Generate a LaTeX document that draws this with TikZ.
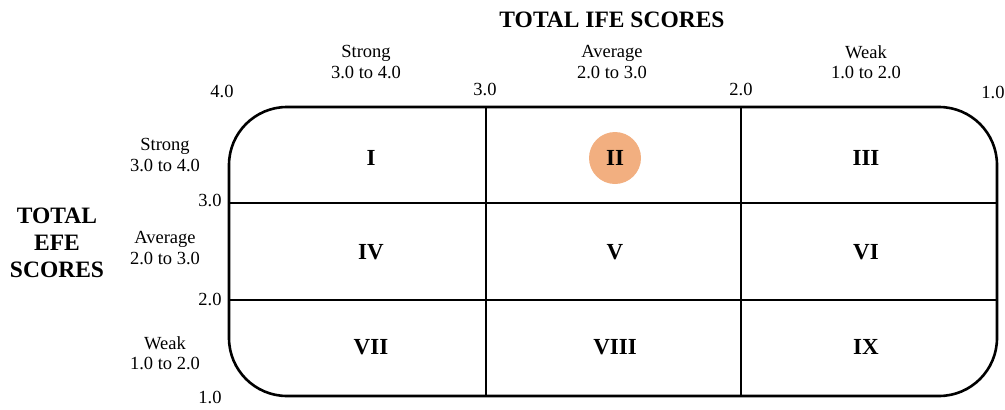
\documentclass[tikz,border=0pt]{standalone}
\usepackage{fontspec}
\setmainfont{Liberation Serif}
\usepackage{tikz}
\usetikzlibrary{calc,positioning}
\definecolor{Ink}{HTML}{000000}
\definecolor{Peach}{HTML}{F2AF80}
\tikzset{frame/.style={draw=Ink,line width=2.6pt,rounded corners=58pt},grid/.style={draw=Ink,line width=1.3pt},cell/.style={font=\fontsize{23}{27}\selectfont\bfseries,inner sep=0pt},band/.style={font=\fontsize{18.5}{20.5}\selectfont,align=center,inner sep=0pt},tick/.style={font=\fontsize{18.5}{20}\selectfont,inner sep=0pt},axis/.style={font=\fontsize{23.5}{27}\selectfont\bfseries,align=center,inner sep=0pt},dot/.style={circle,fill=Peach,minimum size=52pt,inner sep=0pt}}

\begin{document}
\begin{tikzpicture}[x=1pt,y=-1pt]
      \useasboundingbox(0,0)rectangle(1005,410);
      % matrix frame and grid points
      \coordinate(tl)at(229,107);\coordinate(br)at(997,396);
      \coordinate(c1t)at(486,107);\coordinate(c1b)at(486,396);
      \coordinate(c2t)at(741,107);\coordinate(c2b)at(741,396);
      \coordinate(r1l)at(229,203);\coordinate(r1r)at(997,203);
      \coordinate(r2l)at(229,300);\coordinate(r2r)at(997,300);
      \draw[grid](c1t)--(c1b);\draw[grid](c2t)--(c2b);
      \draw[grid](r1l)--(r1r);\draw[grid](r2l)--(r2r);
      \draw[frame](tl)rectangle(br);
      \node[dot](hl)at(615,158){};
      % cells
      \node[cell](i)at(371,158){I};
      \node[cell](ii)at(615,158){II};
      \node[cell](iii)at(866,158){III};
      \node[cell](iv)at(371,252){IV};
      \node[cell](v)at(615,252){V};
      \node[cell](vi)at(866,252){VI};
      \node[cell](vii)at(371,347){VII};
      \node[cell](viii)at(615,347){VIII};
      \node[cell](ix)at(866,347){IX};
      % IFE axis
      \node[axis](ife)at(612,20){TOTAL IFE SCORES};
      \node[band](hs)at(366,62){Strong\\3.0 to 4.0};
      \node[band](ha)at(612,62){Average\\2.0 to 3.0};
      \node[band](hw)at(866,62){Weak\\1.0 to 2.0};
      \node[tick](h4)at(222,91){4.0};
      \node[tick](h3)at(485,89){3.0};
      \node[tick](h2)at(741,89){2.0};
      \node[tick](h1)at(993,92){1.0};
      % EFE axis
      \node[axis](efe)at(57,243){TOTAL\\EFE\\SCORES};
      \node[band](vs)at(165,155){Strong\\3.0 to 4.0};
      \node[band](va)at(165,248){Average\\2.0 to 3.0};
      \node[band](vw)at(165,353){Weak\\1.0 to 2.0};
      \node[tick](v3)at(210,200){3.0};
      \node[tick](v2)at(210,299){2.0};
      \node[tick](v1)at(210,397){1.0};
    \end{tikzpicture}
\end{document}
